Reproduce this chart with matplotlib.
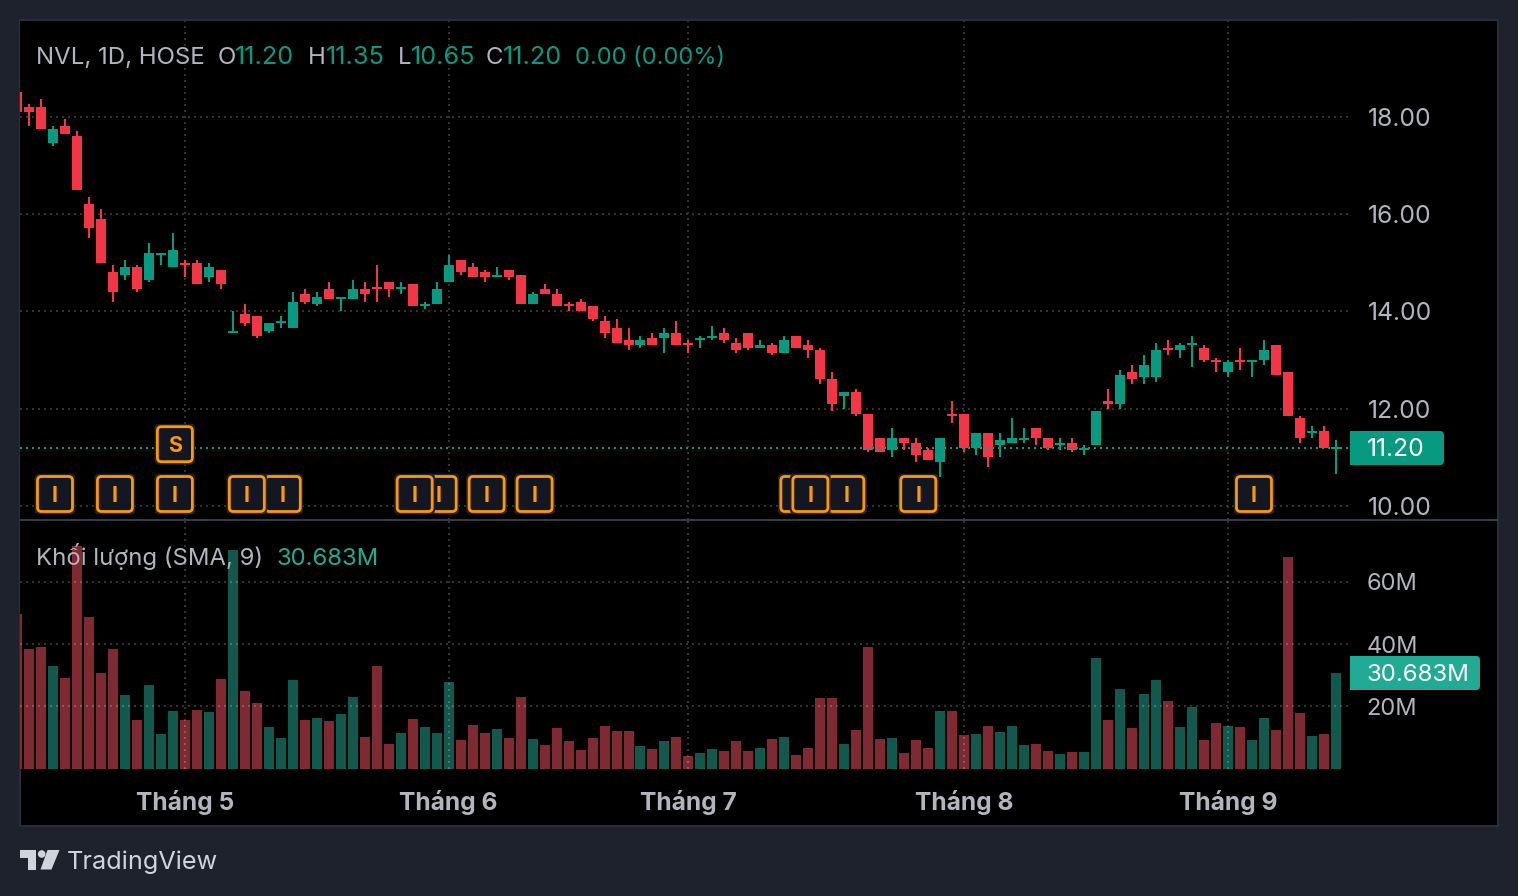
import matplotlib
matplotlib.use('Agg')
import matplotlib.pyplot as plt
import numpy as np
from matplotlib.patches import FancyBboxPatch, Rectangle, Polygon, Circle
from matplotlib.transforms import IdentityTransform

plt.rcParams['font.family'] = ['Inter', 'DejaVu Sans']

W, H = 1518, 896

#daily candles, first one is cut off by the left edge
first_bar = -1
opens = [18.5,18.2,18.2,17.45,17.8,17.6,16.2,15.9,14.8,14.75,
         14.9,14.65,15.15,14.9,15.0,15.0,14.7,14.85,13.55,13.95,
         13.9,13.6,13.75,13.65,14.35,14.15,14.45,14.25,14.25,14.45,
         14.5,14.6,14.45,14.55,14.1,14.15,14.6,15.05,14.9,14.8,
         14.7,14.85,14.75,14.15,14.45,14.35,14.15,14.2,14.1,13.8,
         13.65,13.4,13.3,13.45,13.45,13.55,13.35,13.4,13.45,13.55,
         13.35,13.55,13.25,13.3,13.15,13.5,13.3,13.2,12.6,12.25,
         12.35,11.9,11.4,11.15,11.4,11.3,11.15,10.9,11.9,11.9,
         11.2,11.5,11.25,11.3,11.35,11.6,11.4,11.25,11.3,11.15,
         11.25,12.15,12.1,12.75,12.65,12.65,13.25,13.2,13.3,13.25,
         13.0,12.75,13.0,12.95,13.0,13.3,12.75,11.8,11.5,11.55,11.2]
highs = [18.5,18.25,18.35,17.8,17.95,17.7,16.35,16.1,14.95,15.05,
         14.95,15.4,15.2,15.6,15.05,15.05,15.0,14.85,14.0,14.15,
         13.9,13.75,13.9,14.4,14.45,14.4,14.6,14.3,14.65,14.6,
         14.95,14.6,14.6,14.55,14.2,14.6,15.15,15.05,15.0,14.85,
         14.9,14.85,14.75,14.4,14.55,14.45,14.2,14.25,14.1,13.9,
         13.85,13.65,13.5,13.55,13.65,13.8,13.4,13.5,13.7,13.65,
         13.45,13.55,13.4,13.35,13.5,13.5,13.4,13.25,12.75,12.35,
         12.4,11.9,11.4,11.6,11.4,11.4,11.2,11.4,12.15,11.9,
         11.5,11.5,11.5,11.8,11.6,11.6,11.4,11.4,11.4,11.25,
         11.95,12.4,12.8,12.9,13.1,13.35,13.4,13.35,13.5,13.3,
         13.05,13.0,13.25,13.0,13.4,13.3,12.75,11.85,11.65,11.65,11.35]
lows = [18.1,17.8,17.75,17.4,17.65,16.5,15.5,15.0,14.2,14.65,
        14.4,14.6,14.95,14.9,14.7,14.55,14.6,14.45,13.55,13.7,
        13.45,13.55,13.65,13.65,14.15,14.1,14.25,14.0,14.25,14.2,
        14.2,14.3,14.35,14.1,14.05,14.15,14.6,14.75,14.7,14.6,
        14.7,14.65,14.15,14.15,14.35,14.1,14.0,14.0,13.8,13.45,
        13.35,13.2,13.25,13.3,13.15,13.3,13.15,13.25,13.4,13.35,
        13.15,13.2,13.25,13.1,13.15,13.25,13.05,12.5,11.95,12.0,
        11.85,11.1,11.1,11.0,11.15,10.9,10.95,10.6,11.7,11.1,
        11.05,10.8,11.0,11.3,11.3,11.25,11.15,11.15,11.1,11.05,
        11.25,12.0,12.0,12.5,12.5,12.55,13.1,13.05,12.85,12.95,
        12.75,12.65,12.8,12.65,12.9,12.7,11.85,11.3,11.4,11.2,10.65]
closes = [18.1,18.1,17.75,17.75,17.65,16.5,15.7,15.0,14.4,14.9,
          14.45,15.2,15.2,15.25,14.95,14.55,14.9,14.55,13.6,13.75,
          13.5,13.75,13.8,14.2,14.2,14.3,14.25,14.3,14.45,14.35,
          14.45,14.45,14.5,14.1,14.15,14.45,14.95,14.8,14.7,14.7,
          14.75,14.7,14.15,14.35,14.35,14.1,14.1,14.0,13.85,13.55,
          13.35,13.3,13.4,13.3,13.55,13.3,13.3,13.45,13.5,13.4,
          13.2,13.25,13.3,13.15,13.4,13.25,13.2,12.6,12.1,12.35,
          11.9,11.15,11.1,11.4,11.3,11.05,10.95,11.4,11.85,11.2,
          11.5,11.0,11.35,11.4,11.4,11.4,11.2,11.3,11.15,11.2,
          11.95,12.1,12.7,12.6,12.9,13.2,13.2,13.3,13.35,13.0,
          12.95,12.95,12.95,13.0,13.2,12.7,11.85,11.4,11.55,11.2,11.2]
#volume in millions
volumes = [49.7,38.4,39.1,32.9,29.1,71.6,48.7,30.7,38.4,23.6,
           15.5,26.8,11.0,18.4,15.5,18.7,18.1,28.7,70.3,24.9,
           21.0,13.2,9.7,28.4,15.5,16.2,15.2,17.4,22.9,10.0,
           32.9,7.8,11.3,15.8,13.2,11.3,27.8,9.1,13.9,11.3,
           12.6,9.7,22.9,9.4,7.4,12.9,8.7,5.8,9.7,13.6,
           12.0,12.0,7.1,6.2,8.7,10.0,3.9,4.9,6.2,5.5,
           8.7,5.5,6.5,9.4,10.0,4.2,6.5,22.6,22.6,7.8,
           12.3,39.1,9.4,9.7,4.9,9.1,6.5,18.4,18.4,10.7,
           11.0,13.6,11.6,13.6,7.4,7.8,5.5,4.5,5.2,5.2,
           35.5,15.5,25.5,12.9,23.9,28.4,21.6,13.2,19.7,9.1,
           14.5,13.6,13.2,9.1,16.2,12.3,68.1,17.8,10.3,11.0,30.683]

price_ticks = [10, 12, 14, 16, 18]
volume_ticks = [20, 40, 60]
volume_tick_labels = ['20M', '40M', '60M']
month_bars = [13, 35, 55, 78, 100]
month_labels = ['Tháng 5', 'Tháng 6', 'Tháng 7', 'Tháng 8', 'Tháng 9']
last_price = 11.20
last_volume = 30.683

#event flags along the bottom of the price pane, later ones sit on top
i_flag_bars = [102, 74, 68, 64, 65, 42, 38, 34, 32, 21, 18, 12, 7, 2]
s_flag_bars = [12]

UP = '#089981'
DOWN = '#F23645'
UP_VOL = '#12584C'
DOWN_VOL = '#7F2A33'
GREY = '#B2B5BE'
GRID = '#333333'
PAGE = '#1E222D'
EDGE = '#2A2E39'
ORANGE = '#FF9800'

x = np.arange(first_bar, first_bar + len(opens))
o, h, l, c = map(np.array, (opens, highs, lows, closes))
is_up = c >= o
colors = np.where(is_up, UP, DOWN)
vol_colors = np.where(is_up, UP_VOL, DOWN_VOL)

fig = plt.figure(figsize=(W/100, H/100), dpi=100, facecolor=PAGE)


def px_axes(left, top, right, bottom):
    return fig.add_axes([left/W, 1-bottom/H, (right-left)/W, (bottom-top)/H])


def put(px, py, s, **kw):
    #py is the text baseline in image pixels
    return fig.text(px/W, 1-py/H, s, va='baseline', **kw)


#black chart area
fig.add_artist(Rectangle((20/W, 1-826/H), 1478/W, 806/H, transform=fig.transFigure,
                         facecolor='black', edgecolor=EDGE, linewidth=1.5, zorder=-1))

BAR = 11.99
PRICE_PX = 48.69
VOL_PX = 3.1
VOL_FLOOR = -1/VOL_PX
xlim = ((20-29)/BAR, (1349-29)/BAR)

ax = px_axes(20, 21, 1349, 520)
ax.set_facecolor('black')
ax.set_xlim(xlim)
ax.set_ylim(18-(520-116.5)/PRICE_PX, 18+(116.5-21)/PRICE_PX)

vax = px_axes(20, 521, 1349, 769)
vax.set_facecolor('black')
vax.set_xlim(xlim)
vax.set_ylim(VOL_FLOOR, 247/VOL_PX)

dots = (0, (1, 2))
for a in (ax, vax):
    for s in a.spines.values():
        s.set_visible(False)
    a.set_xticks(month_bars)
    a.tick_params(length=0)
    a.yaxis.tick_right()
ax.grid(True, color=GRID, linewidth=1.44, linestyle=dots)
ax.set_axisbelow(True)
#grid on top of the volume bars, see-through so it lifts them a little
vax.grid(True, color='white', alpha=0.2, linewidth=1.44, linestyle=dots)
vax.set_axisbelow(False)
ax.tick_params(axis='x', labelbottom=False)
ax.set_yticks(price_ticks)
ax.set_yticklabels(['%.2f' % t for t in price_ticks], color=GREY, fontsize=17.8)
ax.tick_params(axis='y', pad=13.5)
vax.set_yticks(volume_ticks)
vax.set_yticklabels(volume_tick_labels, color=GREY, fontsize=17)
vax.tick_params(axis='y', pad=12.5)
vax.set_xticklabels(month_labels, color=GREY, fontsize=17.7, fontweight='bold')
vax.tick_params(axis='x', pad=15)

#candles
ax.axhline(last_price, color=UP, linewidth=1.44, linestyle=dots, zorder=4)
ax.vlines(x, l, h, colors=colors, linewidth=1.44, zorder=3)
min_body = 2/PRICE_PX
body_low = np.minimum(o, c)
body_height = np.maximum(np.abs(c-o), min_body)
body_low = np.where(np.abs(c-o) < min_body, (o+c)/2-min_body/2, body_low)
ax.bar(x, body_height, bottom=body_low, width=10/BAR, color=colors, linewidth=0, zorder=3)

#volume bars
vax.bar(x, np.array(volumes)-VOL_FLOOR, bottom=VOL_FLOOR, width=10/BAR, color=vol_colors, linewidth=0, zorder=1)


def flag(bar, price, letter):
    cx, cy = ax.transData.transform((bar+2/BAR, price))
    size = 35
    for pad, fc, ec, lw in ((2.5, PAGE, PAGE, 0.5), (0, '#131722', ORANGE, 2.0)):
        ax.add_patch(FancyBboxPatch((cx-size/2, cy-size/2), size, size,
                                    boxstyle='round,pad=%s,rounding_size=4' % pad,
                                    transform=IdentityTransform(), facecolor=fc,
                                    edgecolor=ec, linewidth=lw, zorder=5))
    ax.text(cx, cy, letter, transform=IdentityTransform(), color=ORANGE, fontsize=15.5,
            fontweight='bold', ha='center', va='center_baseline', zorder=5)


for b in i_flag_bars:
    flag(b, 10.247, 'I')
for b in s_flag_bars:
    flag(b, 11.27, 'S')

#legend rows
for px, s, col, size in ((36, 'NVL, 1D, HOSE', GREY, 17.3), (218, 'O', GREY, 17.3), (235, '11.20', UP, 18.2),
                         (308, 'H', GREY, 17.3), (326, '11.35', UP, 18.2), (398, 'L', GREY, 17.3),
                         (411, '10.65', UP, 18.2), (486, 'C', GREY, 17.3), (503, '11.20', UP, 18.2),
                         (575, '0.00 (0.00%)', UP, 17)):
    put(px, 64, s, color=col, fontsize=size, zorder=6)
put(36, 565, 'Khối lượng (SMA, 9)', color=GREY, fontsize=17.2, zorder=6)
put(276, 565, '%.3fM' % last_volume, color='#22AB94', fontsize=17.2, zorder=6)


#last value labels on the scale
def value_box(left, top, right, bottom, color, s, size):
    fig.add_artist(FancyBboxPatch((left+4, H-bottom), right-left-4, bottom-top,
                                  boxstyle='round,pad=0,rounding_size=4',
                                  transform=IdentityTransform(), facecolor=color,
                                  linewidth=0, zorder=5))
    fig.add_artist(Rectangle((left, H-bottom), 10, bottom-top, transform=IdentityTransform(),
                             facecolor=color, linewidth=0, zorder=5))
    put(1367, bottom-9, s, color='white', fontsize=size, zorder=6)


value_box(1350, 431, 1444, 465, UP, '%.2f' % last_price, 17.8)
value_box(1350, 656, 1480, 690, '#22AB94', '%.3fM' % last_volume, 17.3)

#pane separator
fig.add_artist(Rectangle((20/W, 1-521/H), 1478/W, 2/H, transform=fig.transFigure,
                         facecolor='#363A45', linewidth=0, zorder=4))

#logo
LOGO = '#D1D4DC'
fig.add_artist(Polygon([(20, H-850), (36, H-850), (36, H-869.5), (28, H-869.5), (28, H-857.5), (20, H-857.5)],
                       transform=IdentityTransform(), facecolor=LOGO, linewidth=0))
fig.add_artist(Circle((41.7, H-854), 3.8, transform=IdentityTransform(), facecolor=LOGO, linewidth=0))
fig.add_artist(Polygon([(47.5, H-850), (59.5, H-850), (51.5, H-869.5), (40.5, H-869.5)],
                       transform=IdentityTransform(), facecolor=LOGO, linewidth=0))
put(67, 869, 'TradingView', color=LOGO, fontsize=18.2)

fig.savefig('out.png', dpi=100, facecolor=PAGE)
